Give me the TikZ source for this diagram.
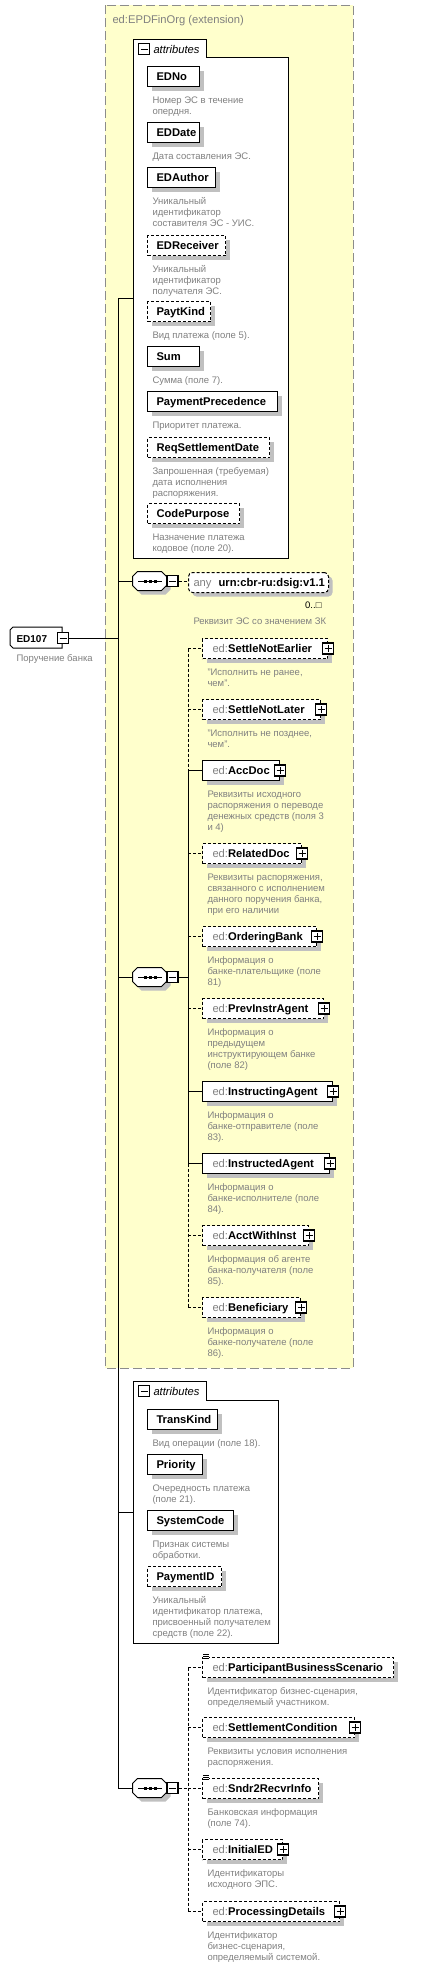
\documentclass[tikz,border=0pt]{standalone}
\usepackage{fontspec}
\setmainfont{Liberation Sans}
\usepackage{xcolor}
\usepackage{tikz}
\usetikzlibrary{shadows}

\definecolor{extyellow}{RGB}{255,255,204}
\definecolor{descgray}{RGB}{128,128,128}
\definecolor{shadowgray}{RGB}{192,192,192}
\newcommand{\boxtxt}[3]{\hbox to #1pt{\hskip#2pt #3\hfil}}
\newcommand{\descstrut}{\rule{0pt}{8pt}}

\begin{document}
\begin{tikzpicture}[x=1pt,y=-1pt,line width=1pt,
  req/.style={solid},
  opt/.style={dash pattern=on 3pt off 2pt},
  elem/.style={draw,fill=white,anchor=north west,minimum height=20pt,inner sep=0pt,
    text height=9pt,text depth=1pt,font=\fontsize{11.2}{13}\selectfont\bfseries,
    drop shadow={shadow xshift=4pt,shadow yshift=-4pt,fill=shadowgray,opacity=1}},
  desc/.style={anchor=north west,inner sep=0pt,align=left,text=descgray,
    font=\fontsize{9.5}{11}\selectfont},
  plusbox/.style={draw,fill=white,line width=1.4pt,minimum size=11pt,inner sep=0pt,
    path picture={\draw[line width=1pt] ([xshift=2pt]path picture bounding box.west) -- ([xshift=-2pt]path picture bounding box.east)
      ([yshift=-2pt]path picture bounding box.north) -- ([yshift=2pt]path picture bounding box.south);}},
  minusbox/.style={draw,fill=white,line width=1.4pt,minimum size=11pt,inner sep=0pt,
    path picture={\draw[line width=1pt] ([xshift=2pt]path picture bounding box.west) -- ([xshift=-2pt]path picture bounding box.east);}}]
        \useasboundingbox (0,0) rectangle (421,1965);
        %画扩展类型背景框
        \draw[fill=extyellow,draw=black!45,dash pattern=on 9pt off 4pt] (105,5) rectangle (353,1368);
        \node[anchor=base west,inner sep=0pt,text=descgray,font=\fontsize{11.2}{13}\selectfont] (ext-t) at (112,23) {ed:EPDFinOrg (extension)};
        \coordinate (bus1) at (118,0);
        \coordinate (bus2) at (188,0);
        %根元素
        \draw[fill=white] (13,627) -- (62,627) -- (62,648) -- (13,648) -- (10,645) -- (10,630) -- cycle;
        \node[anchor=north west,minimum width=52pt,minimum height=21pt,inner sep=0pt,text height=9pt,text depth=1pt,
          font=\fontsize{10}{12}\selectfont\bfseries] (ED107) at (10,627) {\boxtxt{52}{6}{ED107}};
        \node[minusbox] (ED107-m) at (ED107.east) {};
        \node[desc] (ED107-d) at (16,653) {\descstrut Поручение банка};
        %画属性框
        \draw[fill=white] (133,39) -- (206,39) -- (206,57) -- (288,57) -- (288,558) -- (133,558) -- cycle;
        \node[minusbox] (attrA-m) at (144,49) {};
        \node[anchor=base west,inner sep=0pt,font=\fontsize{11.2}{13}\selectfont\itshape] (attrA-t) at (153,53) {attributes};
        \coordinate (attrA) at (133,298);
        \draw[fill=white] (133,1381) -- (206,1381) -- (206,1400) -- (278,1400) -- (278,1643) -- (133,1643) -- cycle;
        \node[minusbox] (attrB-m) at (144,1391) {};
        \node[anchor=base west,inner sep=0pt,font=\fontsize{11.2}{13}\selectfont\itshape] (attrB-t) at (153,1395) {attributes};
        \coordinate (attrB) at (133,1512);
        \foreach \n/\y/\w/\s/\dsc in {EDNo/66/52/req/{Номер ЭС в течение\\опердня.},
          EDDate/122/52/req/{Дата составления ЭС.},
          EDAuthor/167/68/req/{Уникальный\\идентификатор\\составителя ЭС - УИС.},
          EDReceiver/235/78/opt/{Уникальный\\идентификатор\\получателя ЭС.},
          PaytKind/301/63/opt/{Вид платежа (поле 5).},
          Sum/346/52/req/{Сумма (поле 7).},
          PaymentPrecedence/391/130/req/{Приоритет платежа.},
          ReqSettlementDate/437/122/opt/{Запрошенная (требуемая)\\дата исполнения\\распоряжения.},
          CodePurpose/503/92/opt/{Назначение платежа\\кодовое (поле 20).},
          TransKind/1409/70/req/{Вид операции (поле 18).},
          Priority/1454/55/req/{Очередность платежа\\(поле 21).},
          SystemCode/1510/86/req/{Признак системы\\обработки.},
          PaymentID/1566/74/opt/{Уникальный\\идентификатор платежа,\\присвоенный получателем\\средств (поле 22).}}
        {
                \node[elem,\s] (\n) at (147,\y) {\boxtxt{\w}{9}{\n}};
                \node[desc] (\n-d) at ([shift={(5,8)}]\n.south west) {\descstrut\dsc};
        }
        %画序列符号
        \foreach \n/\y in {seqA/581,seqB/977,seqC/1788}
        {
                \node[minimum width=34pt,minimum height=19pt,inner sep=0pt] (\n) at (150,\y) {};
                \fill[shadowgray] ([shift={(4,4)}]\n.west) ++(0,-4.5) -- ++(5,-5) -- ++(24,0) -- ++(5,5) -- ++(0,9) -- ++(-5,5) -- ++(-24,0) -- ++(-5,-5) -- cycle;
                \draw[fill=white] (\n.west) ++(0,-4.5) -- ++(5,-5) -- ++(24,0) -- ++(5,5) -- ++(0,9) -- ++(-5,5) -- ++(-24,0) -- ++(-5,-5) -- cycle;
                \draw ([xshift=-12pt]\n.center) -- ([xshift=12pt]\n.center);
                \foreach \k in {-5,0,5}
                        \fill ([shift={(\k-1.5,-1.5)}]\n.center) rectangle ++(3,3);
                \node[minusbox] (\n-m) at ([xshift=22.5pt]\n.center) {};
        }
        %any 元素
        \node[elem,opt,rounded corners=4pt] (any) at (188,572) {\boxtxt{140}{5}{{\mdseries\color{descgray}any}\hskip7pt urn:cbr-ru:dsig:v1.1}};
        \node[anchor=base east,inner sep=0pt,font=\fontsize{9.5}{11}\selectfont] (any-n) at (322,608) {0..□};
        \node[desc] (any-d) at (193,616) {\descstrut Реквизит ЭС со значением ЗК};
        %画子元素
        \foreach \n/\y/\w/\s/\p/\dsc in {SettleNotEarlier/638/125/opt/1/{"Исполнить не ранее,\\чем".},
          SettleNotLater/699/118/opt/1/{"Исполнить не позднее,\\чем".},
          AccDoc/760/77/req/1/{Реквизиты исходного\\распоряжения о переводе\\денежных средств (поля 3\\и 4)},
          RelatedDoc/843/99/opt/1/{Реквизиты распоряжения,\\связанного с исполнением\\данного поручения банка,\\при его наличии},
          OrderingBank/926/114/opt/1/{Информация о\\банке-плательщике (поле\\81)},
          PrevInstrAgent/998/121/opt/1/{Информация о\\предыдущем\\инструктирующем банке\\(поле 82)},
          InstructingAgent/1081/130/req/1/{Информация о\\банке-отправителе (поле\\83).},
          InstructedAgent/1153/127/req/1/{Информация о\\банке-исполнителе (поле\\84).},
          AcctWithInst/1225/106/opt/1/{Информация об агенте\\банка-получателя (поле\\85).},
          Beneficiary/1297/98/opt/1/{Информация о\\банке-получателе (поле\\86).},
          ParticipantBusinessScenario/1657/191/opt/0/{Идентификатор бизнес-сценария,\\определяемый участником.},
          SettlementCondition/1717/152/opt/1/{Реквизиты условия исполнения\\распоряжения.},
          Sndr2RecvrInfo/1778/116/opt/0/{Банковская информация\\(поле 74).},
          InitialED/1839/80/opt/1/{Идентификаторы\\исходного ЭПС.},
          ProcessingDetails/1901/137/opt/1/{Идентификатор\\бизнес-сценария,\\определяемый системой.}}
        {
                \node[elem,\s] (\n) at (202,\y) {\boxtxt{\w}{10}{{\mdseries\color{descgray}ed:}\n}};
                \ifnum\p=1
                        \node[plusbox] (\n-p) at (\n.east) {};
                \else
                        \fill[white] ([shift={(1,-3)}]\n.north west) rectangle ++(6,5);
                        \foreach \k in {0,2,4}
                                \draw[line width=0.7pt] ([shift={(1,-3+\k)}]\n.north west) -- ++(6,0);
                \fi
                \node[desc] (\n-d) at ([shift={(5,8)}]\n.south west) {\descstrut\dsc};
                \draw[\s] (\n.west -| bus2) -- (\n.west);
        }
        %画连线
        \draw (ED107-m.east) -- (ED107-m.east -| bus1);
        \draw (attrA -| bus1) -- (seqC.west -| bus1) -- (seqC.west);
        \draw (attrA -| bus1) -- (attrA);
        \draw (attrB -| bus1) -- (attrB);
        \draw (seqA.west -| bus1) -- (seqA.west);
        \draw (seqB.west -| bus1) -- (seqB.west);
        \draw[opt] (seqA-m.east) -- (seqA-m.east -| any.west);
        \draw (seqB-m.east) -- (seqB-m.east -| bus2);
        \draw[opt] (seqC-m.east) -- (seqC-m.east -| bus2);
        \draw[opt] (SettleNotEarlier.west -| bus2) -- (AccDoc.west -| bus2);
        \draw (AccDoc.west -| bus2) -- (InstructedAgent.west -| bus2);
        \draw[opt] (InstructedAgent.west -| bus2) -- (Beneficiary.west -| bus2);
        \draw[opt] (ParticipantBusinessScenario.west -| bus2) -- (ProcessingDetails.west -| bus2);
\end{tikzpicture}
\end{document}
